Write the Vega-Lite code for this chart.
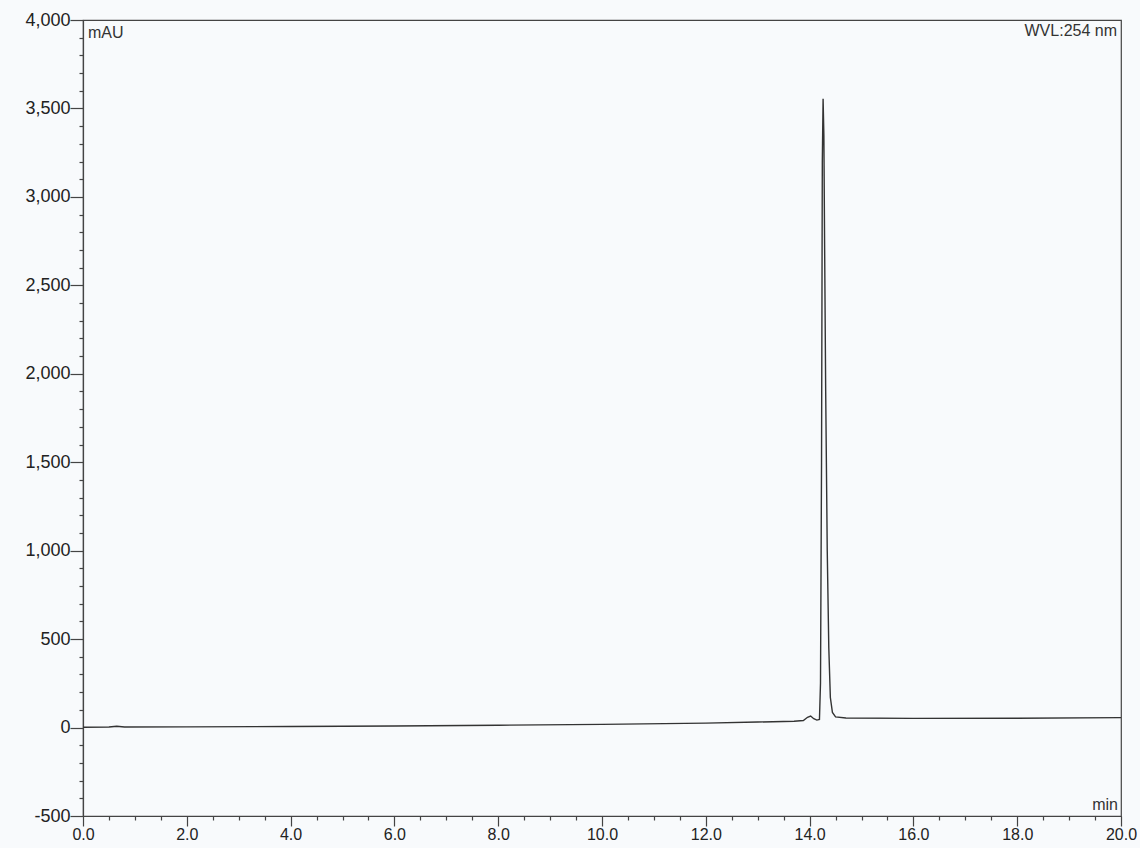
{
  "$schema": "https://vega.github.io/schema/vega-lite/v6.json",
  "width": 1038,
  "height": 796,
  "autosize": {"type": "none"},
  "padding": {"left": 83, "top": 20, "right": 19, "bottom": 32},
  "background": "#f8fafc",
  "config": {
    "view": {"stroke": "#444", "strokeWidth": 1.2, "fill": "#f8fafc"},
    "font": "Liberation Sans",
    "axis": {"labelOverlap": false, "labelBound": false}
  },
  "datasets": {
    "trace": [
      {"t": 0.0, "v": 2}, {"t": 0.5, "v": 3}, {"t": 0.65, "v": 7}, {"t": 0.8, "v": 3},
      {"t": 2.0, "v": 4}, {"t": 4.0, "v": 6}, {"t": 6.0, "v": 9}, {"t": 8.0, "v": 13},
      {"t": 10.0, "v": 18}, {"t": 12.0, "v": 25}, {"t": 13.0, "v": 31}, {"t": 13.7, "v": 36},
      {"t": 13.88, "v": 40}, {"t": 13.96, "v": 58}, {"t": 14.02, "v": 65}, {"t": 14.08, "v": 50},
      {"t": 14.14, "v": 42}, {"t": 14.19, "v": 46}, {"t": 14.21, "v": 250}, {"t": 14.23, "v": 1500},
      {"t": 14.245, "v": 3200}, {"t": 14.26, "v": 3555}, {"t": 14.275, "v": 3350}, {"t": 14.29, "v": 2700},
      {"t": 14.31, "v": 1900}, {"t": 14.34, "v": 1000}, {"t": 14.37, "v": 450}, {"t": 14.40, "v": 170},
      {"t": 14.44, "v": 85}, {"t": 14.5, "v": 60}, {"t": 14.7, "v": 54}, {"t": 16.0, "v": 52},
      {"t": 18.0, "v": 53}, {"t": 20.0, "v": 56}
    ]
  },
  "layer": [
    {
      "data": {"name": "trace"},
      "mark": {"type": "line", "color": "#333", "strokeWidth": 1.4, "clip": true},
      "encoding": {
        "x": {
          "field": "t", "type": "quantitative",
          "scale": {"domain": [0, 20], "nice": false, "zero": false},
          "axis": {
            "title": null,
            "tickCount": 200,
            "values": [0,0.5,1,1.5,2,2.5,3,3.5,4,4.5,5,5.5,6,6.5,7,7.5,8,8.5,9,9.5,10,10.5,11,11.5,12,12.5,13,13.5,14,14.5,15,15.5,16,16.5,17,17.5,18,18.5,19,19.5,20],
            "labelExpr": "datum.value % 2 === 0 ? format(datum.value, '.1f') : ''",
            "tickSize": {"condition": {"test": "datum.value % 2 === 0", "value": 10}, "value": 4},
            "tickColor": "#444", "domainColor": "#444", "domainWidth": 1.2, "tickWidth": 1.2,
            "labelFontSize": 16, "labelColor": "#222", "labelPadding": 0,
            "grid": false, "labelFlush": false, "labelOverlap": false
          }
        },
        "y": {
          "field": "v", "type": "quantitative",
          "scale": {"domain": [-500, 4000], "nice": false, "zero": false},
          "axis": {
            "title": null,
            "tickCount": 200,
            "values": [-500,-400,-300,-200,-100,0,100,200,300,400,500,600,700,800,900,1000,1100,1200,1300,1400,1500,1600,1700,1800,1900,2000,2100,2200,2300,2400,2500,2600,2700,2800,2900,3000,3100,3200,3300,3400,3500,3600,3700,3800,3900,4000],
            "labelExpr": "datum.value % 500 === 0 ? (datum.value < 0 ? '-' + format(-datum.value, ',') : format(datum.value, ',')) : ''",
            "tickSize": {"condition": {"test": "datum.value % 500 === 0", "value": 13}, "value": 4},
            "tickColor": "#444", "domainColor": "#444", "domainWidth": 1.2, "tickWidth": 1.2,
            "labelFontSize": 18, "labelColor": "#222", "labelPadding": 0,
            "grid": false, "labelFlush": false, "labelOverlap": false
          }
        }
      }
    },
    {
      "data": {"values": [{"label": "mAU"}]},
      "mark": {"type": "text", "align": "left", "baseline": "top", "dx": 5, "dy": 5, "fontSize": 16, "color": "#333"},
      "encoding": {"x": {"datum": 0, "type": "quantitative"}, "y": {"datum": 4000, "type": "quantitative"}, "text": {"field": "label"}}
    },
    {
      "data": {"values": [{"label": "WVL:254 nm"}]},
      "mark": {"type": "text", "align": "right", "baseline": "top", "dx": -4, "dy": 3, "fontSize": 16, "color": "#333"},
      "encoding": {"x": {"datum": 20, "type": "quantitative"}, "y": {"datum": 4000, "type": "quantitative"}, "text": {"field": "label"}}
    },
    {
      "data": {"values": [{"label": "min"}]},
      "mark": {"type": "text", "align": "right", "baseline": "bottom", "dx": -3, "dy": -3, "fontSize": 16, "color": "#333"},
      "encoding": {"x": {"datum": 20, "type": "quantitative"}, "y": {"datum": -500, "type": "quantitative"}, "text": {"field": "label"}}
    }
  ]
}
